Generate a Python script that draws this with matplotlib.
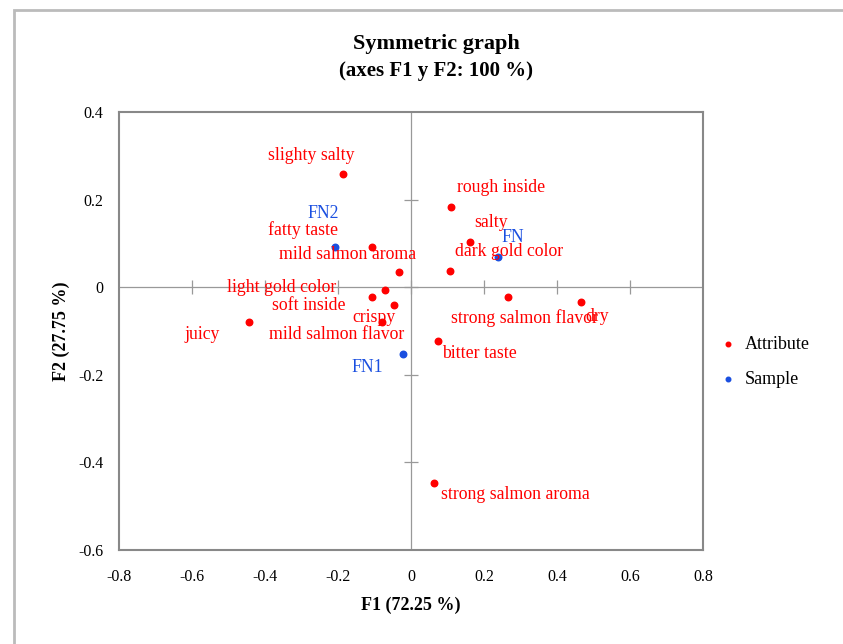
import matplotlib.pyplot as plt
from matplotlib.patches import Rectangle

plt.rcParams['font.family'] = ['Liberation Serif', 'DejaVu Serif']

# attribute coordinates (F1, F2)
attr_names = ['slighty salty', 'rough inside', 'salty', 'fatty taste', 'mild salmon aroma',
              'dark gold color', 'soft inside', 'light gold color', 'crispy', 'mild salmon flavor',
              'juicy', 'strong salmon flavor', 'dry', 'bitter taste', 'strong salmon aroma']
attr_f1 = [-0.187, 0.110, 0.162, -0.108, -0.034, 0.106, -0.072, -0.108, -0.047, -0.079,
           -0.444, 0.267, 0.466, 0.073, 0.064]
attr_f2 = [0.259, 0.182, 0.103, 0.092, 0.034, 0.037, -0.007, -0.022, -0.040, -0.079,
           -0.079, -0.022, -0.034, -0.123, -0.446]

# sample coordinates
samp_names = ['FN2', 'FN', 'FN1']
samp_f1 = [-0.208, 0.239, -0.021]
samp_f2 = [0.091, 0.069, -0.153]

xticks = [-0.8, -0.6, -0.4, -0.2, 0, 0.2, 0.4, 0.6, 0.8]
yticks = [-0.6, -0.4, -0.2, 0, 0.2, 0.4]

# label offsets in pixels (placement only)
attr_off = [(-31, 18), (50, 20), (21, 20), (-69, 17), (-51, 18),
            (59, 19), (-76, -15), (-90, 9), (-20, -13), (-46, -13),
            (-47, -13), (16, -21), (16, -14), (42, -12), (81, -12)]
samp_off = [(-12, 34), (15, 19), (-36, -13)]

red = '#ff0000'
blue = '#1a4fe0'

fig = plt.figure(figsize=(8.43, 6.44), dpi=100)
fig.patches.append(Rectangle((14 / 843, -0.1), 1.2, 1.1 - 10 / 644, transform=fig.transFigure,
                             fill=False, edgecolor='#bbbbbb', lw=2))
ax = fig.add_axes([119 / 843, 1 - 550 / 644, 584 / 843, 438 / 644])

ax.axhline(0, color='#999999', lw=0.9, zorder=1)
ax.axvline(0, color='#999999', lw=0.9, zorder=1)
ax.plot(xticks[1:-1], [0] * (len(xticks) - 2), ls='none', marker='|', ms=10,
        mec='#999999', mew=0.9, zorder=1)
ax.plot([0] * (len(yticks) - 2), yticks[1:-1], ls='none', marker='_', ms=10,
        mec='#999999', mew=0.9, zorder=1)

ax.scatter(attr_f1, attr_f2, s=22, color=red, zorder=3, label='Attribute')
ax.scatter(samp_f1, samp_f2, s=22, color=blue, zorder=4, label='Sample')

for n, x, y, o in zip(attr_names, attr_f1, attr_f2, attr_off):
    ax.annotate(n, (x, y), xytext=o, textcoords='offset pixels', ha='center', va='center',
                color=red, fontsize=12.8, zorder=5)
for n, x, y, o in zip(samp_names, samp_f1, samp_f2, samp_off):
    ax.annotate(n, (x, y), xytext=o, textcoords='offset pixels', ha='center', va='center',
                color=blue, fontsize=12.8, zorder=5)

ax.set_xlim(-0.8, 0.8)
ax.set_ylim(-0.6, 0.4)
ax.set_xticks(xticks)
ax.set_yticks(yticks)
ax.set_xticklabels(['%g' % t for t in xticks])
ax.set_yticklabels(['%g' % t for t in yticks])
ax.tick_params(axis='x', length=0, labelsize=11.5, pad=14)
ax.tick_params(axis='y', length=0, labelsize=11.5, pad=11)
for s in ax.spines.values():
    s.set_color('#888888')
    s.set_linewidth(1.5)

ax.set_xlabel('F1 (72.25 %)', fontsize=13, fontweight='bold', labelpad=8)
ax.set_ylabel('F2 (27.75 %)', fontsize=13, fontweight='bold', labelpad=6)

fig.text(436 / 843, 1 - 44 / 644, 'Symmetric graph', ha='center', va='center',
         fontsize=16, fontweight='bold')
fig.text(436 / 843, 1 - 71 / 644, '(axes F1 y F2: 100 %)', ha='center', va='center',
         fontsize=15, fontweight='bold')

ax.legend(loc='center left', bbox_to_anchor=(1.0, 0.43), frameon=False, fontsize=13,
          handlelength=1.0, handletextpad=0.4, markerscale=0.7, labelspacing=1.0)

fig.savefig('out.png', dpi=100)
